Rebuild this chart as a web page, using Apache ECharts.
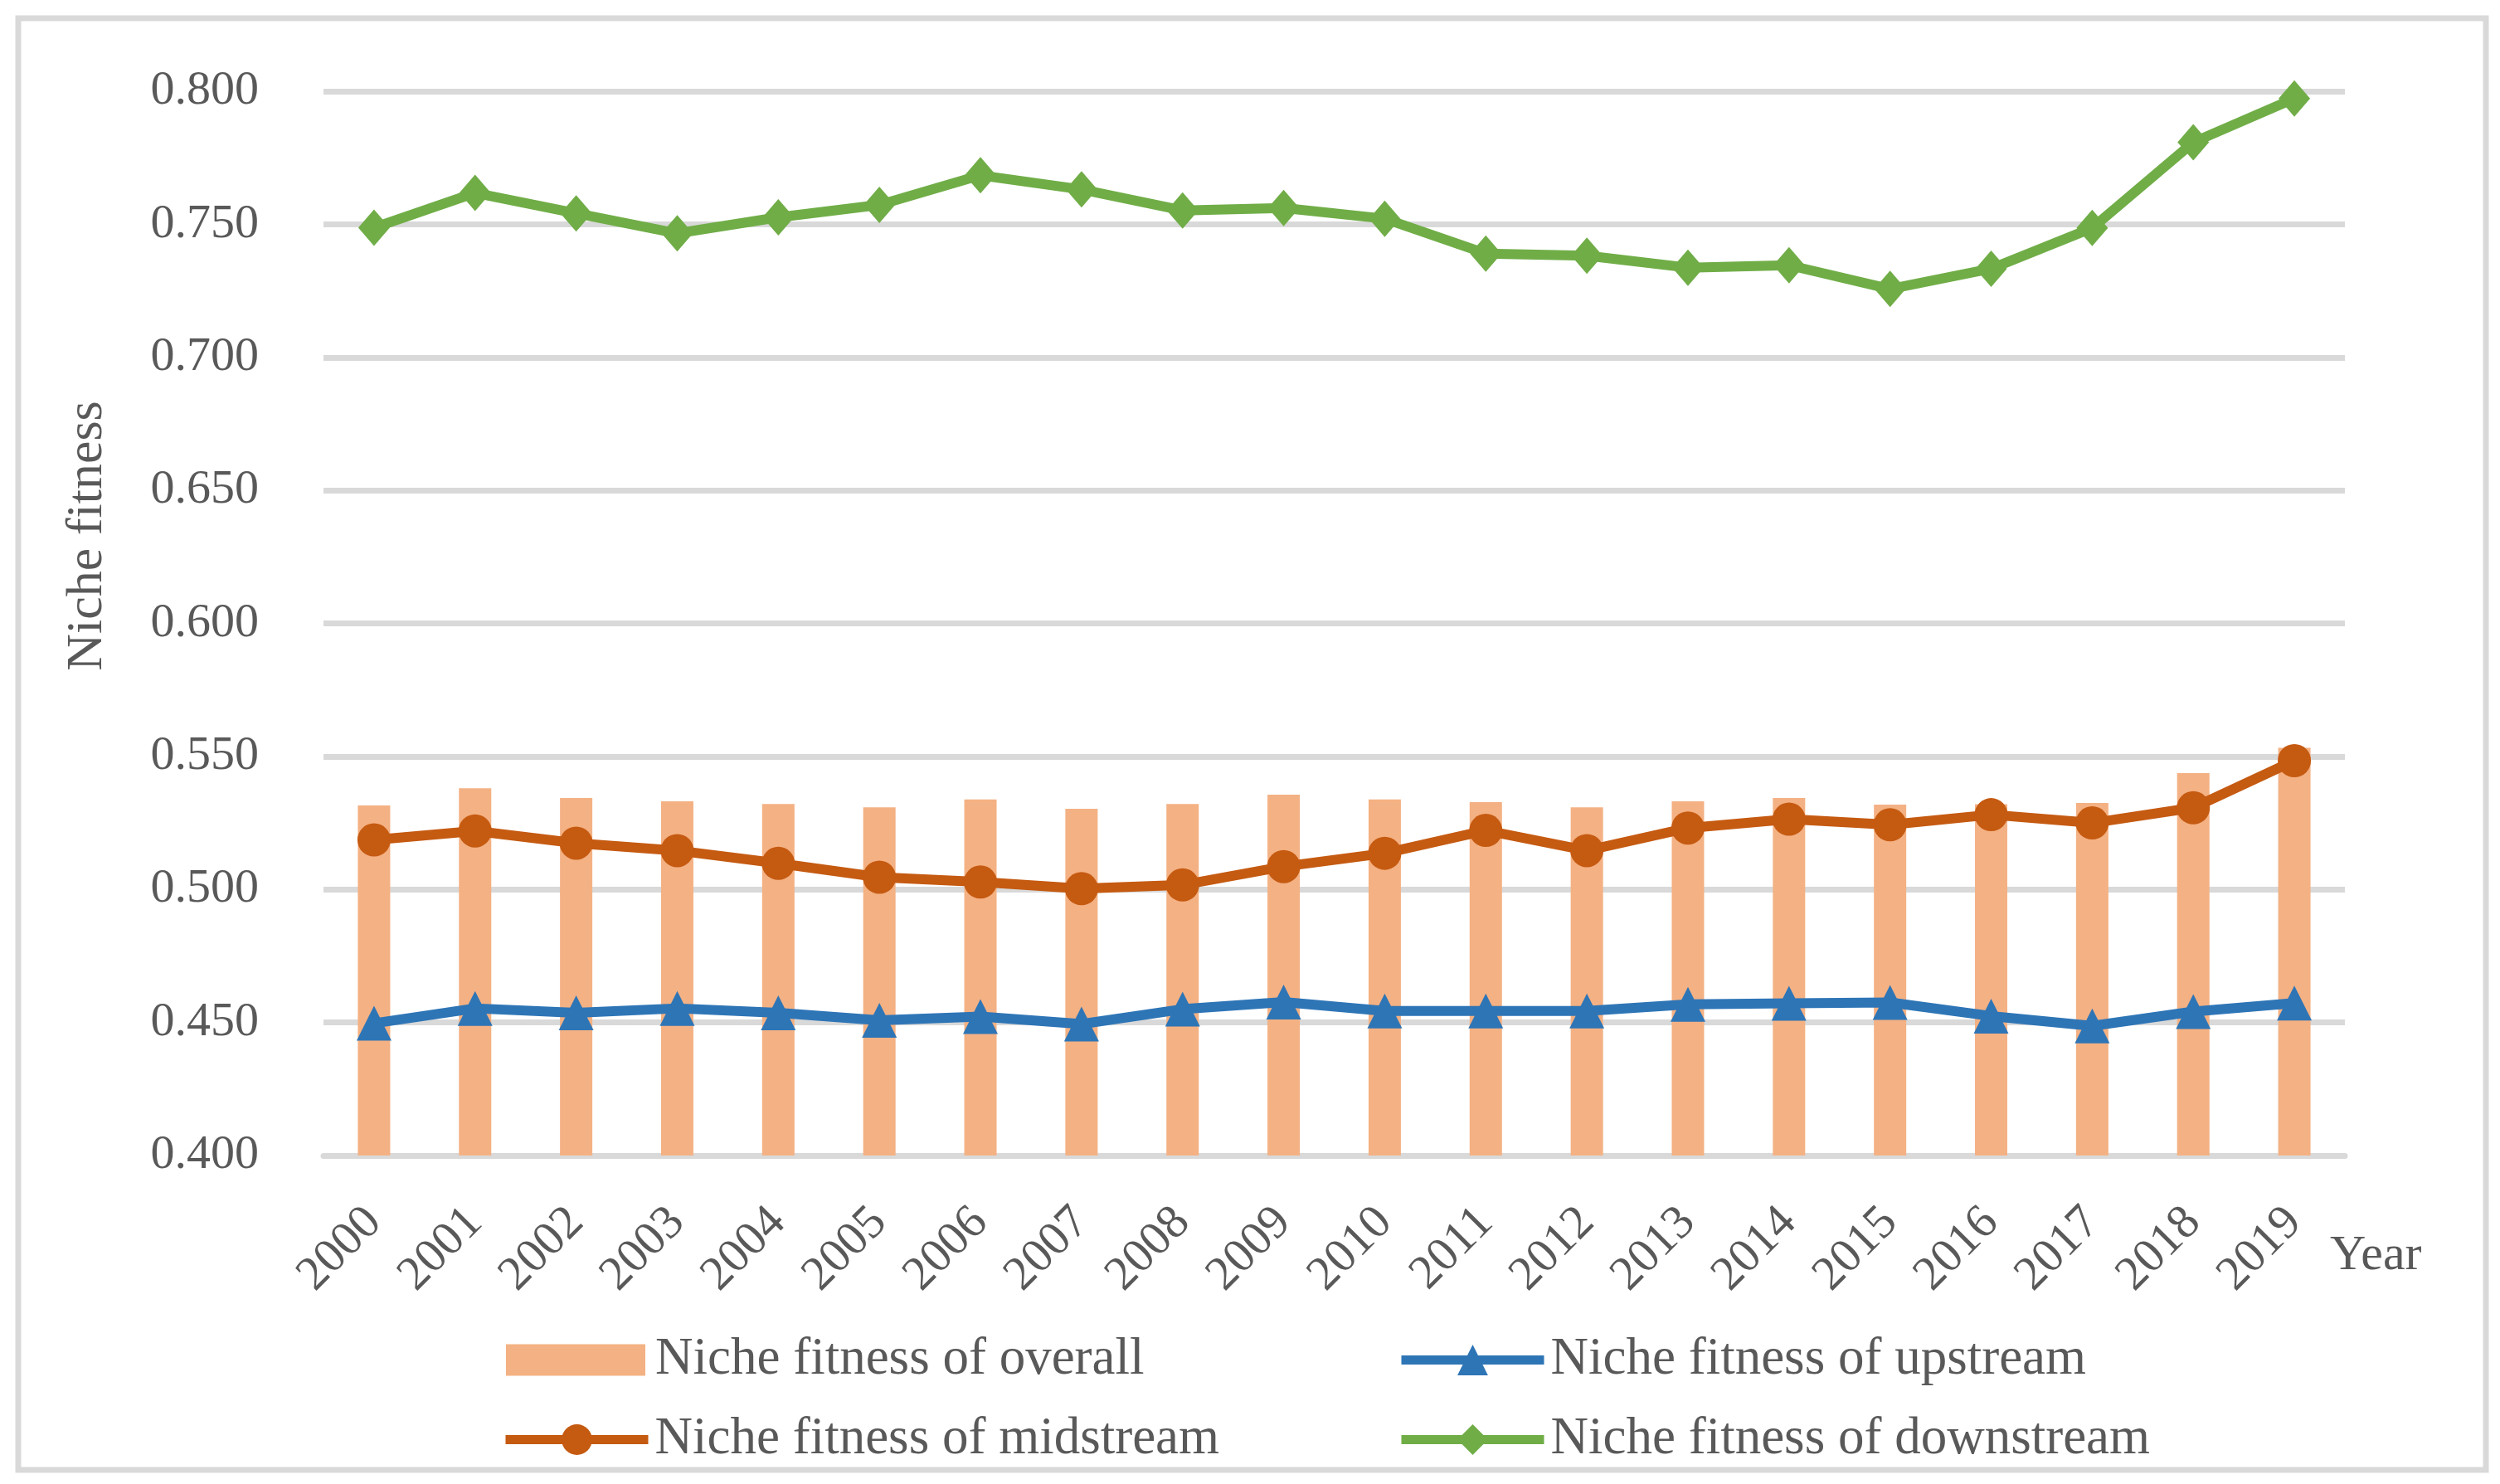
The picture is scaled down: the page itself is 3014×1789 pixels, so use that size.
<!DOCTYPE html>
<html>
<head>
<meta charset="utf-8">
<script src="https://cdn.jsdelivr.net/npm/echarts@6/dist/echarts.min.js"></script>
<style>
html,body{margin:0;padding:0;background:#fff;}
#chart{width:3014px;height:1789px;}
</style>
</head>
<body>
<div id="chart"></div>
<script>
var years = ['2000','2001','2002','2003','2004','2005','2006','2007','2008','2009','2010','2011','2012','2013','2014','2015','2016','2017','2018','2019'];
var overall = [0.5316,0.5380,0.5344,0.5331,0.5321,0.5309,0.5338,0.5303,0.5321,0.5356,0.5338,0.5328,0.5309,0.5331,0.5344,0.5319,0.5320,0.5325,0.5437,0.5532];
var upstream = [0.4497,0.4553,0.4536,0.4553,0.4536,0.4508,0.4522,0.4494,0.4550,0.4577,0.4543,0.4543,0.4543,0.4568,0.4572,0.4575,0.4524,0.4487,0.4541,0.4573];
var midstream = [0.5186,0.5220,0.5174,0.5146,0.5098,0.5046,0.5028,0.5003,0.5017,0.5086,0.5136,0.5222,0.5146,0.5231,0.5264,0.5243,0.5281,0.5250,0.5307,0.5484];
var downstream = [0.7487,0.7618,0.7541,0.7466,0.7526,0.7573,0.7684,0.7631,0.7552,0.7561,0.7521,0.7390,0.7382,0.7337,0.7346,0.7257,0.7333,0.7486,0.7808,0.7973];
var seriesNames = ['Niche fitness of overall','Niche fitness of upstream','Niche fitness of midstream','Niche fitness of downstream'];
var yTicks = {min:0.4, max:0.8, interval:0.05};

var FONT = '"Liberation Serif", "DejaVu Serif", serif';
var TXT = '#595959';
var GRID = '#D9D9D9';
var C_BAR = '#F4B183', C_UP = '#2E75B6', C_MID = '#C55A11', C_DOWN = '#70AD47';

var chart = echarts.init(document.getElementById('chart'), null, {renderer:'canvas'});

function legendAt(name, left, top, isLine) {
  var l = {
    data:[name], left:left, top:top, orient:'horizontal',
    itemWidth:isLine ? 172 : 168, itemHeight:isLine ? 46 : 38, padding:0,
    textStyle:{fontFamily:FONT, fontSize:63, color:TXT, padding:[0,0,0,isLine ? 3 : 7]},
    selectedMode:false
  };
  if (isLine) { l.lineStyle = {width:11}; } else { l.icon = 'rect'; }
  return l;
}

var option = {
  backgroundColor:'#fff',
  animation:false,
  grid:{left:390, right:187, top:110, bottom:396, containLabel:false},
  legend:[
    legendAt(seriesNames[0], 610, 1608, false),
    legendAt(seriesNames[1], 1684, 1608, true),
    legendAt(seriesNames[2], 604, 1704, true),
    legendAt(seriesNames[3], 1684, 1704, true)
  ],
  xAxis:{
    type:'category', data:years, boundaryGap:true,
    axisLine:{show:true, lineStyle:{color:GRID, width:7}},
    axisTick:{show:false},
    axisLabel:{rotate:45, margin:72, fontFamily:FONT, fontSize:58, color:TXT, interval:0}
  },
  yAxis:{
    type:'value', min:yTicks.min, max:yTicks.max, interval:yTicks.interval,
    axisLine:{show:false}, axisTick:{show:false},
    splitLine:{lineStyle:{color:GRID, width:7}},
    axisLabel:{margin:78, fontFamily:FONT, fontSize:58, color:TXT, formatter:function(v){return v.toFixed(3);}}
  },
  graphic:[
    {type:'rect', shape:{x:22, y:22, width:2975, height:1750}, style:{fill:null, stroke:GRID, lineWidth:7}, z:-1, silent:true},
    {type:'text', x:106, y:646, rotation:Math.PI/2, style:{text:'Niche fitness', fontFamily:FONT, fontSize:62, fill:TXT, align:'center', verticalAlign:'middle'}},
    {type:'text', x:2809, y:1514, style:{text:'Year', fontFamily:FONT, fontSize:60, fill:TXT, align:'left', verticalAlign:'middle'}}
  ],
  series:[
    {name:seriesNames[0], type:'bar', data:overall, barWidth:39, itemStyle:{color:C_BAR}, z:1},
    {name:seriesNames[1], type:'line', data:upstream, symbol:'triangle', symbolSize:42, lineStyle:{color:C_UP, width:12}, itemStyle:{color:C_UP}, z:3},
    {name:seriesNames[2], type:'line', data:midstream, symbol:'circle', symbolSize:40, lineStyle:{color:C_MID, width:12}, itemStyle:{color:C_MID}, z:3},
    {name:seriesNames[3], type:'line', data:downstream, symbol:'diamond', symbolSize:[38,44], lineStyle:{color:C_DOWN, width:12}, itemStyle:{color:C_DOWN}, z:3}
  ]
};
chart.setOption(option);
</script>
</body>
</html>
